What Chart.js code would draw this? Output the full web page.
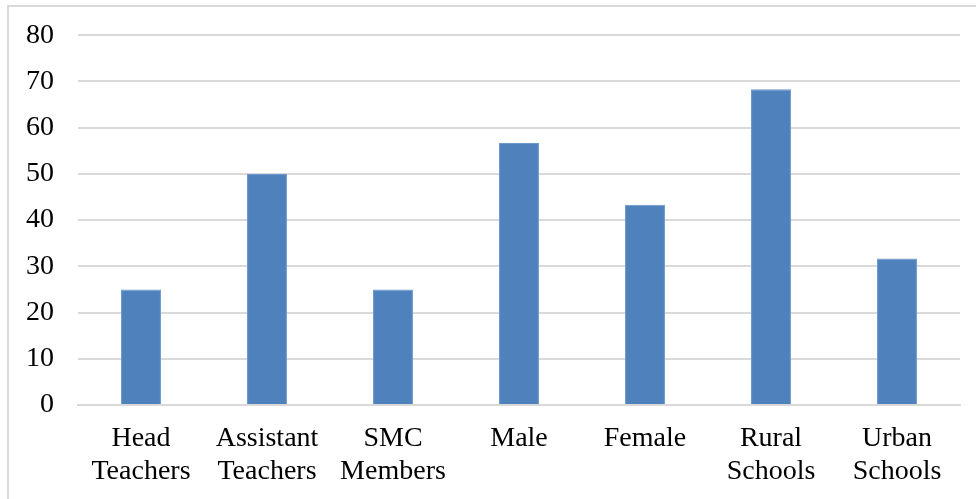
<!DOCTYPE html>
<html>
<head>
<meta charset="utf-8">
<script src="https://cdn.jsdelivr.net/npm/chart.js@4"></script>
<style>
  html, body { margin: 0; padding: 0; background: #fff; }
  #wrap { position: relative; width: 976px; height: 499px; }
</style>
</head>
<body>
<div id="wrap"><canvas id="myChart"></canvas></div>
<script>
// categories (two line labels) and values
const categories = [
    ['Head', 'Teachers'],
    ['Assistant', 'Teachers'],
    ['SMC', 'Members'],
    'Male',
    'Female',
    ['Rural', 'Schools'],
    ['Urban', 'Schools']
];
const percents = [25, 50, 25, 56.7, 43.3, 68.3, 31.7];
const yTicks = [0, 10, 20, 30, 40, 50, 60, 70, 80];

// thin grey frame round the chart, like the word-processor picture
const frame = {
    id: 'frame',
    beforeDraw(chart) {
        const c = chart.ctx;
        c.save();
        c.strokeStyle = '#d9d9d9';
        c.lineWidth = 2;
        c.beginPath();
        c.moveTo(8, 499);
        c.lineTo(8, 6);
        c.lineTo(976, 6);
        c.stroke();
        c.restore();
    }
};

const family = "'Liberation Serif', 'Times New Roman', serif";
const xFont = { family: family, size: 28, lineHeight: 1.15 };
// small lineHeight on y labels so the top of the plot sits at the 80 line like in the picture
const yFont = { family: family, size: 28, lineHeight: 0.8 };

chartIt();
function chartIt() {
    const ctx = document.getElementById('myChart');
    new Chart(ctx.getContext('2d'), {
        type: 'bar',
        data: {
            labels: categories,
            datasets: [{
                data: percents,
                backgroundColor: '#4f81bd',
                borderColor: '#6b96cc',
                borderWidth: 1,
                categoryPercentage: 1,
                barPercentage: 0.317
            }]
        },
        options: {
            responsive: true,
            maintainAspectRatio: false,
            animation: false,
            events: [],
            layout: { padding: { left: 8, right: 16, top: 20, bottom: 0 } },
            plugins: {
                legend: { display: false },
                tooltip: { enabled: false }
            },
            scales: {
                x: {
                    grid: { display: false },
                    border: { display: true, color: '#d9d9d9', width: 2 },
                    ticks: { color: '#000', font: xFont, padding: 10, maxRotation: 0, autoSkip: false },
                    afterFit(scale) { scale.height = 94; }
                },
                y: {
                    min: 0,
                    max: 80,
                    afterBuildTicks(scale) { scale.ticks = yTicks.map(v => ({ value: v })); },
                    grid: { color: '#d9d9d9', lineWidth: 2, drawTicks: false },
                    border: { display: false },
                    ticks: { color: '#000', font: yFont, padding: 24 },
                    afterFit(scale) { scale.width = 70; }
                }
            }
        },
        plugins: [frame]
    });
}
</script>
</body>
</html>
